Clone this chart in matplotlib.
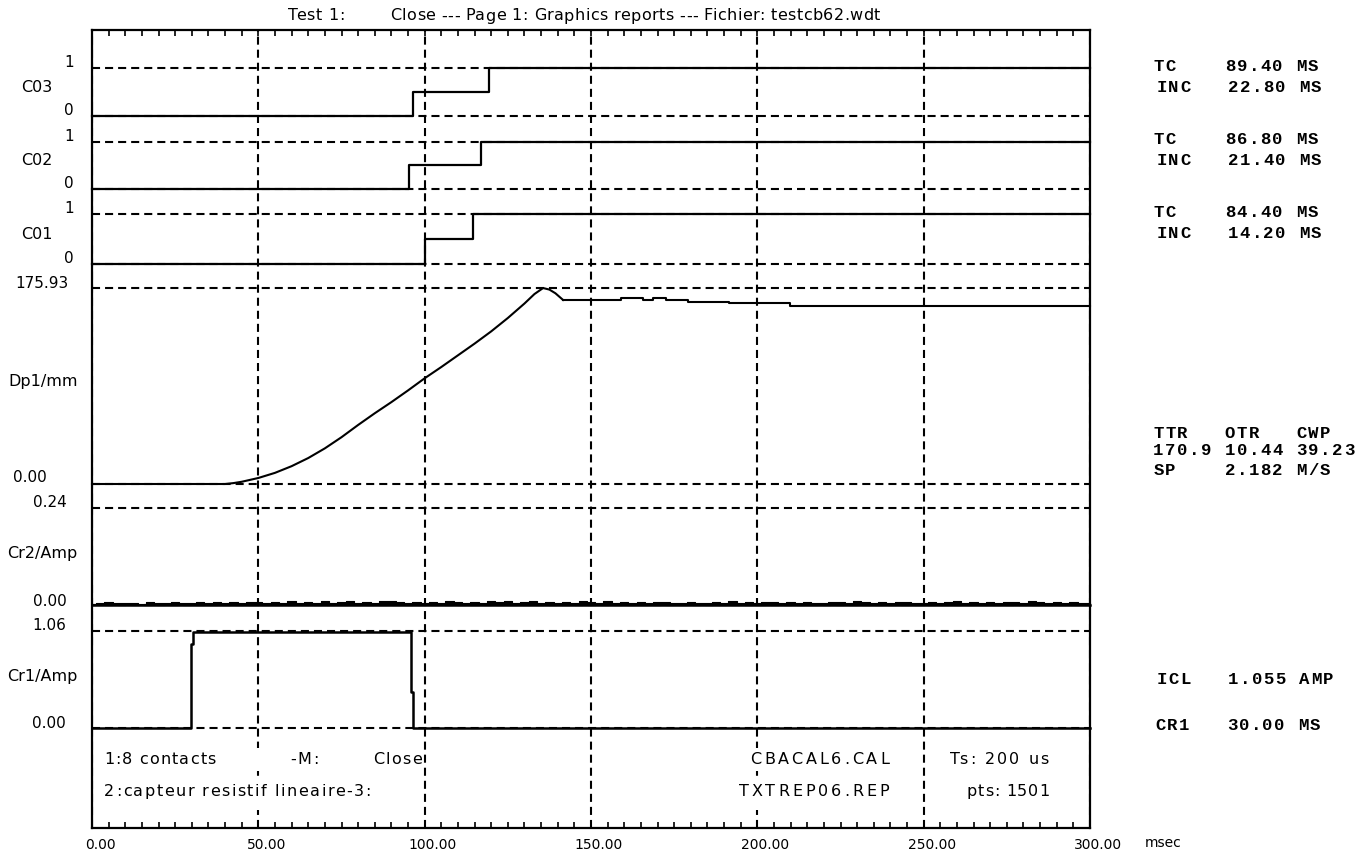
import matplotlib
matplotlib.use("Agg")
import matplotlib.pyplot as plt
from matplotlib.ticker import MultipleLocator
from matplotlib.transforms import ScaledTranslation
from matplotlib.patches import Rectangle
from matplotlib.font_manager import FontProperties
from matplotlib.textpath import TextToPath
import numpy as np

plt.rcParams['font.family'] = ['DejaVu Sans']
plt.rcParams['lines.scale_dashes'] = False

W, H = 1370, 855
DASH = (0, (5.8, 3.6))

# time axis (ms)
x_ticks = [0, 50, 100, 150, 200, 250, 300]
x_labels = ["0.00", "50.00", "100.00", "150.00", "200.00", "250.00", "300.00"]

# contact channels: step times (ms) and levels
c03_t = [0, 96.6, 119.4, 300]
c03_v = [0, 0.5, 1, 1]
c02_t = [0, 95.4, 116.8, 300]
c02_v = [0, 0.5, 1, 1]
c01_t = [0, 100.2, 114.4, 300]
c01_v = [0, 0.5, 1, 1]

# displacement Dp1 (mm)
dp1_t = [0, 40, 42.5, 45, 50, 55, 60, 65, 70, 75, 80, 85, 90, 95, 100, 105,
         110, 115, 120, 125, 130, 133, 135.6, 137.5, 139.3, 141.6]
dp1_v = [0, 0, 0.8, 2, 5.4, 10, 16, 23.3, 32, 42, 53, 63.5, 73.5, 84, 94.9, 105,
         115.5, 126, 137, 149, 162, 170.5, 175.9, 174.5, 171.2, 165.2]
dp1_hold_t = [141.6, 158.9, 165.7, 168.6, 172.5, 179.1, 191.4, 209.7, 300]
dp1_hold_v = [165.2, 167.2, 165.2, 167.2, 165.2, 163.7, 162.2, 160.1, 160.1]

# coil current Cr2 (A), one reading every 2.5 ms
cr2_v = [
    0.003, 0.005, 0.007, 0.004, 0.006, 0.005, 0.003, 0.007, 0.004, 0.006,
    0.008, 0.004, 0.006, 0.007, 0.005, 0.008, 0.004, 0.007, 0.005, 0.008,
    0.007, 0.005, 0.008, 0.006, 0.009, 0.005, 0.008, 0.006, 0.009, 0.005,
    0.007, 0.009, 0.006, 0.008, 0.005, 0.009, 0.010, 0.007, 0.006, 0.008,
    0.005, 0.008, 0.006, 0.009, 0.007, 0.005, 0.008, 0.005, 0.009, 0.007,
    0.010, 0.006, 0.008, 0.009, 0.005, 0.008, 0.005, 0.008, 0.006, 0.009,
    0.007, 0.005, 0.009, 0.005, 0.008, 0.006, 0.008, 0.005, 0.007, 0.008,
    0.006, 0.005, 0.008, 0.006, 0.005, 0.008, 0.006, 0.009, 0.005, 0.008,
    0.005, 0.007, 0.008, 0.005, 0.007, 0.005, 0.008, 0.006, 0.005, 0.007,
    0.008, 0.006, 0.009, 0.007, 0.005, 0.008, 0.005, 0.007, 0.008, 0.006,
    0.005, 0.008, 0.006, 0.008, 0.009, 0.006, 0.008, 0.006, 0.008, 0.005,
    0.007, 0.008, 0.006, 0.009, 0.007, 0.006, 0.008, 0.006, 0.008, 0.006,
    0.006]
cr2_t = np.linspace(0, 300, len(cr2_v))

# coil current Cr1 (A)
cr1_t = [0, 29.8, 29.8, 30.4, 30.4, 95.8, 95.8, 96.6, 96.6, 300]
cr1_v = [0, 0, 0.92, 0.92, 1.05, 1.05, 0.39, 0.39, 0, 0]

# measurement results on the right: (x, y, line)
results = [
    (1153, 66.7, "TC    89.40 MS"),
    (1156, 87.7, "INC   22.80 MS"),
    (1153, 139, "TC    86.80 MS"),
    (1156, 160.7, "INC   21.40 MS"),
    (1153, 212.7, "TC    84.40 MS"),
    (1156, 233.3, "INC   14.20 MS"),
    (1153, 433.3, "TTR   OTR   CWP"),
    (1153, 450.7, "170.9 10.44 39.23"),
    (1153, 470, "SP    2.182 M/S"),
    (1156, 680, "ICL   1.055 AMP"),
    (1155, 725, "CR1   30.00 MS"),
]

# header / footer strings: (x, y, text, width, align)
header = [
    (288, 16, "Test 1:", 57, 'left'),
    (390, 16, "Close --- Page 1: Graphics reports --- Fichier: testcb62.wdt", 490, 'left'),
]
footer = [
    (104, 759, "1:8 contacts", 112, 'left'),
    (290, 759, "-M:", 29, 'left'),
    (373, 759, "Close", 49, 'left'),
    (104, 791, "2:capteur resistif lineaire-3:", 267, 'left'),
    (889, 759, "CBACAL6.CAL", 139, 'right'),
    (889, 791, "TXTREP06.REP", 150, 'right'),
    (1049, 759, "Ts: 200 us", 99, 'right'),
    (1049, 791, "pts: 1501", 82, 'right'),
]


def fx(x):
    return x / W


def fy(y):
    return 1 - y / H


fig = plt.figure(figsize=(13.7, 8.55), dpi=100)
t2p = TextToPath()


def tw(s, fp):
    # ink width of a string in pixels
    return t2p.get_text_width_height_descent(s, fp, ismath=False)[0] * 100 / 72


def spaced(x, y, s, width, ha='left', size=11.5):
    fp = FontProperties(family='DejaVu Sans', size=size)
    natural = tw(s, fp)
    extra = (width - natural) / max(len(s) - 1, 1)
    x0 = x if ha == 'left' else x - width
    for i, c in enumerate(s):
        if c == ' ':
            continue
        start = tw(s[:i + 1], fp) - tw(c, fp)
        fig.text(fx(x0 + start + i * extra), fy(y), c, fontproperties=fp,
                 ha='left', va='center')


# outer frame with time axis
frame = fig.add_axes([fx(92), fy(828), fx(1090) - fx(92), fy(30) - fy(828)])
frame.set_xlim(0, 300)
frame.set_ylim(0, 1)
frame.set_yticks([])
frame.set_xticks(x_ticks)
frame.set_xticklabels(x_labels, fontsize=10)
frame.xaxis.set_minor_locator(MultipleLocator(5))
frame.tick_params(axis='x', which='both', direction='in', top=True, bottom=True,
                  length=4, width=1.2, pad=7)
frame.grid(axis='x', which='major', color='black', linestyle=DASH, linewidth=1.5)
for s in frame.spines.values():
    s.set_linewidth(1.6)
for lab in frame.get_xticklabels():
    lab.set_transform(lab.get_transform() + ScaledTranslation(8 / 100, 0, fig.dpi_scale_trans))
fig.text(fx(1145), fy(843), "msec", fontsize=10, ha='left', va='center')


def channel(yb, yt, top):
    ax = fig.add_axes([fx(92), fy(yb), fx(1090) - fx(92), fy(yt) - fy(yb)])
    ax.set_xlim(0, 300)
    ax.set_ylim(0, top)
    ax.patch.set_visible(False)
    for s in ax.spines.values():
        s.set_visible(False)
    ax.set_xticks([])
    ax.set_yticks([0, top])
    ax.tick_params(axis='y', direction='in', left=True, right=True, length=4,
                   width=1.2, labelleft=False)
    for level in (0, top):
        ax.axhline(level, color='black', linestyle=DASH, linewidth=1.5, clip_on=False)
    return ax


def label(ax, text, y, dx, dy, ha, coords='data', size=11):
    ax.annotate(text, xy=(0, y), xycoords=('axes fraction', coords),
                xytext=(dx, dy), textcoords='offset pixels',
                ha=ha, va='center', fontsize=size, annotation_clip=False)


# contacts
for name, t, v, yb, yt in [("C03", c03_t, c03_v, 116, 68),
                           ("C02", c02_t, c02_v, 189, 142),
                           ("C01", c01_t, c01_v, 264, 214)]:
    ax = channel(yb, yt, 1)
    ax.plot(t, v, drawstyle='steps-post', color='black', lw=1.6, clip_on=False)
    label(ax, "1", 1, -18, 5.5, 'right')
    label(ax, "0", 0, -18, 5.5, 'right')
    label(ax, name, 0.5, -55, 5, 'center', 'axes fraction', 11.5)

# Dp1
ax = channel(484, 288, 175.93)
ax.plot(dp1_t, dp1_v, color='black', lw=1.5, clip_on=False)
ax.plot(dp1_hold_t, dp1_hold_v, drawstyle='steps-post', color='black', lw=1.5, clip_on=False)
label(ax, "175.93", 175.93, -77, 5, 'left')
label(ax, "0.00", 0, -79, 6, 'left')
label(ax, "Dp1/mm", 0.5, -48.5, 4.5, 'center', 'axes fraction', 11.5)

# Cr2
ax = channel(605, 508, 0.24)
ax.fill_between(cr2_t, 0, cr2_v, step='mid', color='black', lw=0, clip_on=False)
ax.plot(cr2_t, cr2_v, drawstyle='steps-mid', color='black', lw=0.8, clip_on=False)
ax.axhline(0, color='black', lw=1.8, clip_on=False)
label(ax, "0.24", 0.24, -25, 6, 'right')
label(ax, "0.00", 0, -25, 3.5, 'right')
label(ax, "Cr2/Amp", 0.5, -49.5, 3.5, 'center', 'axes fraction', 11.5)

# Cr1
ax = channel(727.5, 631, 1.06)
ax.plot(cr1_t, cr1_v, color='black', lw=1.8, clip_on=False)
label(ax, "1.06", 1.06, -26, 6, 'right')
label(ax, "0.00", 0, -26, 4.5, 'right')
label(ax, "Cr1/Amp", 0.5, -49.5, 3, 'center', 'axes fraction', 11.5)

# title
for x, y, s, w, ha in header:
    spaced(x, y, s, w, ha)

# info fields in the bottom band (white fields hide the grid)
for x0, x1 in [(100, 300), (735, 893)]:
    for y0, y1 in [(748, 771), (777, 810)]:
        fig.patches.append(Rectangle((fx(x0), fy(y1)), fx(x1) - fx(x0), fy(y0) - fy(y1),
                                     transform=fig.transFigure, facecolor='white',
                                     edgecolor='none', zorder=1))
for x, y, s, w, ha in footer:
    spaced(x, y, s, w, ha)

# results, fixed 11.9 px character grid
for x, y, line in results:
    for i, c in enumerate(line):
        if c != ' ':
            fig.text(fx(x + i * 11.9 + 5.5), fy(y), c, family='Liberation Mono',
                     weight='bold', fontsize=12.5, ha='center', va='center')

fig.savefig("out.png", dpi=100)
